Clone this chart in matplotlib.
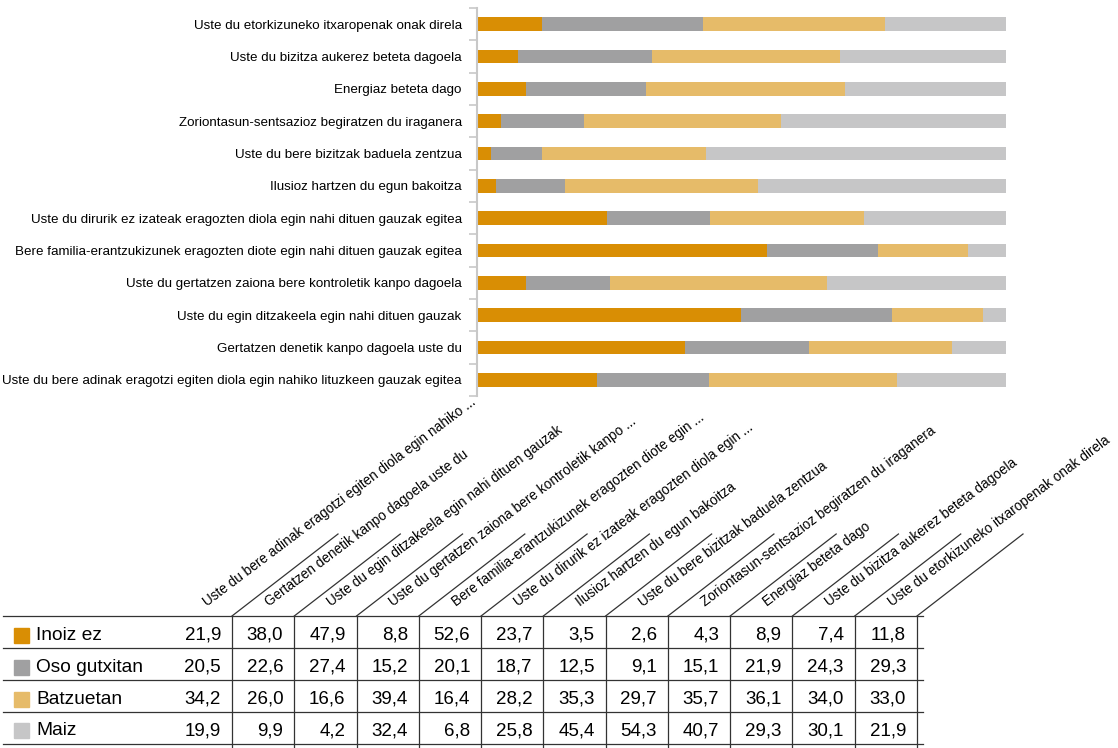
import matplotlib
matplotlib.use("Agg")
import matplotlib.pyplot as plt
from matplotlib.patches import Rectangle
import numpy as np

plt.rcParams['font.family'] = ['Liberation Sans', 'DejaVu Sans']

labels = [
    "Uste du bere adinak eragotzi egiten diola egin nahiko lituzkeen gauzak egitea",
    "Gertatzen denetik kanpo dagoela uste du",
    "Uste du egin ditzakeela egin nahi dituen gauzak",
    "Uste du gertatzen zaiona bere kontroletik kanpo dagoela",
    "Bere familia-erantzukizunek eragozten diote egin nahi dituen gauzak egitea",
    "Uste du dirurik ez izateak eragozten diola egin nahi dituen gauzak egitea",
    "Ilusioz hartzen du egun bakoitza",
    "Uste du bere bizitzak baduela zentzua",
    "Zoriontasun-sentsazioz begiratzen du iraganera",
    "Energiaz beteta dago",
    "Uste du bizitza aukerez beteta dagoela",
    "Uste du etorkizuneko itxaropenak onak direla",
]
header_labels = [
    "Uste du bere adinak eragotzi egiten diola egin nahiko ...",
    "Gertatzen denetik kanpo dagoela uste du",
    "Uste du egin ditzakeela egin nahi dituen gauzak",
    "Uste du gertatzen zaiona bere kontroletik kanpo ...",
    "Bere familia-erantzukizunek eragozten diote egin ...",
    "Uste du dirurik ez izateak eragozten diola egin ...",
    "Ilusioz hartzen du egun bakoitza",
    "Uste du bere bizitzak baduela zentzua",
    "Zoriontasun-sentsazioz begiratzen du iraganera",
    "Energiaz beteta dago",
    "Uste du bizitza aukerez beteta dagoela",
    "Uste du etorkizuneko itxaropenak onak direla",
]
series_names = ["Inoiz ez", "Oso gutxitan", "Batzuetan", "Maiz"]
inoiz_ez = [21.9, 38.0, 47.9, 8.8, 52.6, 23.7, 3.5, 2.6, 4.3, 8.9, 7.4, 11.8]
oso_gutxitan = [20.5, 22.6, 27.4, 15.2, 20.1, 18.7, 12.5, 9.1, 15.1, 21.9, 24.3, 29.3]
batzuetan = [34.2, 26.0, 16.6, 39.4, 16.4, 28.2, 35.3, 29.7, 35.7, 36.1, 34.0, 33.0]
maiz = [19.9, 9.9, 4.2, 32.4, 6.8, 25.8, 45.4, 54.3, 40.7, 29.3, 30.1, 21.9]
colors = ["#D98E04", "#A0A0A1", "#E6BB69", "#C6C6C7"]

series = [inoiz_ez, oso_gutxitan, batzuetan, maiz]
vals = np.array(series)
totals = vals.sum(axis=0)
shares = vals / totals * 100

W, H = 1118, 748
fig = plt.figure(figsize=(W / 100, H / 100), dpi=100)

# bar chart (100% stacked)
ax = fig.add_axes([477 / W, 1 - 396 / H, 529 / W, 388 / H])
y = np.arange(len(labels))
left = np.zeros(len(labels))
for s, c in zip(shares, colors):
    ax.barh(y, s, left=left, height=0.42, color=c, linewidth=0)
    left += s
ax.set_xlim(0, 100)
ax.set_ylim(-0.5, len(labels) - 0.5)
ax.set_yticks(y)
ax.set_yticklabels(labels, fontsize=9.6)
ax.set_yticks(np.arange(-0.5, len(labels), 1), minor=True)
ax.tick_params(axis='y', which='major', length=0, pad=11)
ax.tick_params(axis='y', which='minor', length=6, color='#C8C8C8', width=1.2)
ax.set_xticks([])
for sp in ['top', 'right', 'bottom']:
    ax.spines[sp].set_visible(False)
ax.spines['left'].set_color('#C8C8C8')
ax.spines['left'].set_linewidth(1.5)

# data table drawn in pixel coordinates
ov = fig.add_axes([0, 0, 1, 1], zorder=-1)
ov.set_xlim(0, W)
ov.set_ylim(H, 0)
ov.axis('off')

line_c = '#333333'
row_y = [616, 648, 680, 712, 743.5]
col_w = (917 - 232) / 11
col_right = [232 + col_w * k for k in range(12)]

for yy in row_y:
    ov.plot([3, 923], [yy, yy], color=line_c, lw=0.9)
for xr in col_right:
    ov.plot([xr, xr], [616, H + 5], color=line_c, lw=0.9)
    ov.plot([xr, xr + 106], [616, 534], color=line_c, lw=0.9)

for k, txt in enumerate(header_labels):
    x0 = col_right[k] - col_w + 37
    ov.text(x0, 607, txt, rotation=37, rotation_mode='anchor',
            ha='left', va='baseline', fontsize=9.8)

for i, (name, s, c) in enumerate(zip(series_names, series, colors)):
    yc = (row_y[i] + row_y[i + 1]) / 2 + 3
    ov.add_patch(Rectangle((14, yc - 7.5), 15, 15, color=c))
    ov.text(36, yc, name, ha='left', va='center', fontsize=13.8)
    for k, v in enumerate(s):
        ov.text(col_right[k] - 11, yc, f"{v:.1f}".replace('.', ','),
                ha='right', va='center', fontsize=13.5)

fig.savefig("out.png", dpi=100)
